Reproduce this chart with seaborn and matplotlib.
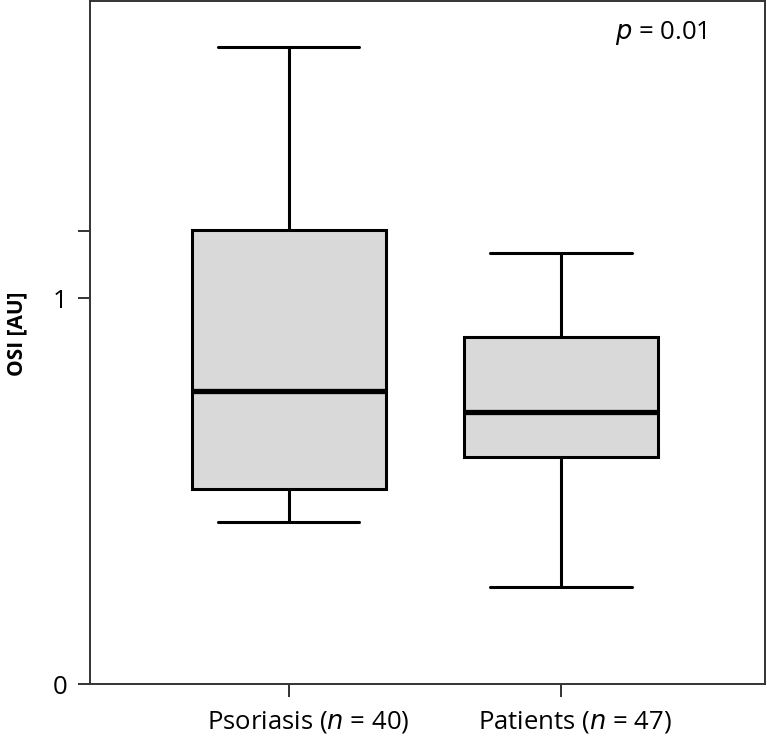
import pandas as pd
import matplotlib
matplotlib.use("Agg")
import matplotlib.pyplot as plt
import matplotlib.transforms as mtransforms
import seaborn as sns

sns.set_style("white")
plt.rcParams['font.family'] = ['Open Sans', 'DejaVu Sans']
plt.rcParams['text.color'] = 'black'
plt.rcParams['axes.labelcolor'] = 'black'
plt.rcParams['xtick.color'] = 'black'
plt.rcParams['ytick.color'] = 'black'

# five values per group: min, Q1, median, Q3, max
groups = ['Psoriasis ($\\it{n}$ = 40)', 'Patients ($\\it{n}$ = 47)']
psoriasis = [0.419, 0.505, 0.759, 1.176, 1.650]
patients = [0.251, 0.588, 0.705, 0.898, 1.117]

df = pd.DataFrame({
    'group': [groups[0]] * len(psoriasis) + [groups[1]] * len(patients),
    'osi': psoriasis + patients,
})

fig = plt.figure(figsize=(7.67, 7.39), dpi=100)
ax = fig.add_axes([90 / 767, 1 - 684 / 739, 675 / 767, 683 / 739])

sns.boxplot(data=df, x='group', y='osi', ax=ax, whis=(0, 100), width=0.714,
            color='#d9d9d9', linecolor='black', linewidth=2.2,
            capwidths=0.52,
            medianprops=dict(linewidth=3.8, color='black'))

ax.set_xlim(-0.73, 1.75)
ax.set_ylim(0, 1.77)
ax.set_yticks([0, 1, 1.174])
ax.set_yticklabels(['0', '1', ''])
ax.tick_params(axis='both', which='major', direction='out', length=9, width=1.3,
               color='#222222', labelsize=18.5, left=True, bottom=True)
ax.tick_params(axis='x', pad=9)
ax.tick_params(axis='y', pad=7)
ax.set_xlabel('')
ax.set_ylabel('OSI [AU]', fontsize=15, fontweight='bold')
ax.yaxis.set_label_coords(-0.0925, 0.513)

# x labels sit a little right of their ticks in the reference
for lab, dx in zip(ax.get_xticklabels(), [20, 14]):
    lab.set_transform(lab.get_transform() +
                      mtransforms.ScaledTranslation(dx / 100, 0, fig.dpi_scale_trans))

for s in ax.spines.values():
    s.set_color('#333333')
    s.set_linewidth(1.4)

ax.text(0.846, 0.953, '$\\it{p}$ = 0.01', transform=ax.transAxes,
        ha='center', va='center', fontsize=18.5)

plt.savefig('out.png', dpi=100)
